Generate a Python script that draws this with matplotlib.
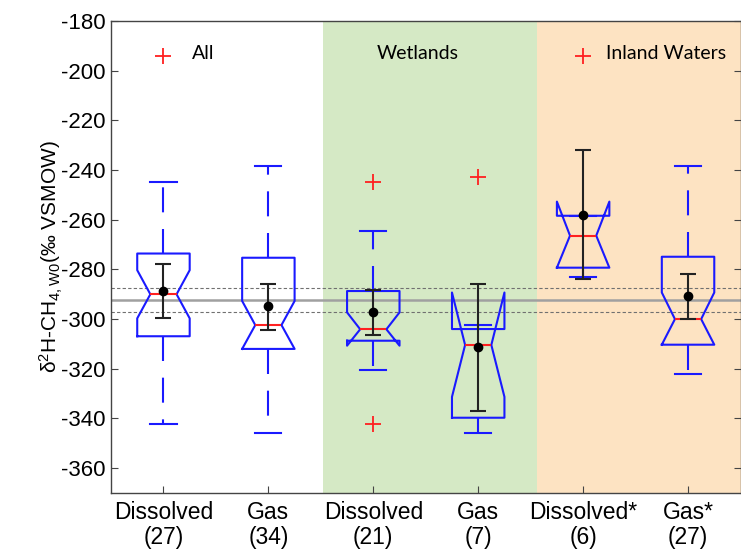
import matplotlib
matplotlib.use('Agg')
import matplotlib.pyplot as plt

# box statistics (per mil VSMOW)
categories = ['Dissolved\n(27)', 'Gas\n(34)', 'Dissolved\n(21)', 'Gas\n(7)', 'Dissolved*\n(6)', 'Gas*\n(27)']
q1 = [-306.9, -312.0, -308.7, -339.7, -279.3, -310.3]
med = [-290.0, -302.4, -304.1, -310.4, -266.4, -300.0]
q3 = [-273.6, -275.3, -288.7, -304.0, -258.4, -274.9]
notch_lo = [-299.7, -312.0, -310.7, -331.3, -279.3, -310.3]
notch_hi = [-280.3, -292.7, -297.3, -289.3, -252.7, -289.3]
whis_lo = [-342.4, -346.0, -320.3, -346.0, -282.9, -322.1]
whis_hi = [-244.7, -238.3, -264.4, -302.3, -258.4, -238.3]
fliers = [[-194.0], [], [-244.7, -342.4], [-242.7], [-194.0], []]

means = [-288.7, -294.9, -297.3, -311.3, -258.0, -290.7]
mean_lo = [-299.7, -304.3, -306.4, -337.1, -284.0, -300.0]
mean_hi = [-278.0, -286.0, -288.4, -285.7, -232.0, -281.7]

ref_mean = -292.3
ref_band = [-287.3, -297.1]

groups = ['All', 'Wetlands', 'Inland Waters']

plt.rcParams['font.family'] = ['Liberation Sans', 'DejaVu Sans']
plt.rcParams['axes.unicode_minus'] = False
plt.rcParams['mathtext.default'] = 'regular'

fig = plt.figure(figsize=(7.41, 5.54), dpi=100)
ax = fig.add_axes([111 / 741, 61 / 554, 629.5 / 741, 472 / 554])

pos = list(range(1, len(categories) + 1))

ax.axvspan(2.52, 4.56, color='#d5e9c5', lw=0, zorder=0)
ax.axvspan(4.56, 6.6, color='#fde3c2', lw=0, zorder=0)

ax.axhline(ref_mean, color='#a0a0a0', lw=1.8, zorder=1)
for y in ref_band:
    ax.axhline(y, color='#707070', lw=0.8, ls=(0, (3, 2)), zorder=1)

stats = []
for i in range(len(categories)):
    stats.append(dict(med=med[i], q1=q1[i], q3=q3[i], cilo=notch_lo[i], cihi=notch_hi[i],
                      whislo=whis_lo[i], whishi=whis_hi[i], fliers=fliers[i]))

ax.bxp(stats, positions=pos, widths=0.5, shownotches=True, showfliers=True,
       boxprops=dict(color='#1a1aff', lw=1.5),
       whiskerprops=dict(color='#1a1aff', lw=1.5, ls=(0, (12, 8))),
       capprops=dict(color='#1a1aff', lw=1.5),
       medianprops=dict(color='#ff2020', lw=1.5),
       flierprops=dict(marker='+', markeredgecolor='#ff2020', markersize=11, markeredgewidth=1.3),
       zorder=3)

yerr = [[m - lo for m, lo in zip(means, mean_lo)], [hi - m for m, hi in zip(means, mean_hi)]]
ax.errorbar(pos, means, yerr=yerr, fmt='o', color='black', ecolor='#222222', elinewidth=1.5,
            capsize=5.5, capthick=1.5, markersize=6, zorder=4)

ax.text(1.27, -193, groups[0], fontsize=14, family=['Lato', 'DejaVu Sans'], va='center', ha='left')
ax.text(3.42, -193, groups[1], fontsize=14, family=['Lato', 'DejaVu Sans'], va='center', ha='center')
ax.text(5.79, -193, groups[2], fontsize=14, family=['Lato', 'DejaVu Sans'], va='center', ha='center')

ax.set_xlim(0.5, 6.5)
ax.set_ylim(-370, -180)
ax.set_yticks(range(-360, -179, 20))
ax.set_xticks(pos)
ax.set_xticklabels(categories, fontsize=16.5, linespacing=1.1)
ax.tick_params(axis='y', labelsize=16, direction='in', right=True, length=5, color='#444444', pad=4)
ax.tick_params(axis='x', direction='in', length=5, color='#444444', pad=6)
for s in ax.spines.values():
    s.set_color('#444444')
    s.set_linewidth(1.0)

ax.set_ylabel('δ$^{2}$H-CH$_{4,W0}$(‰ VSMOW)', fontsize=15, labelpad=-3)

fig.savefig('out.png', dpi=100)
